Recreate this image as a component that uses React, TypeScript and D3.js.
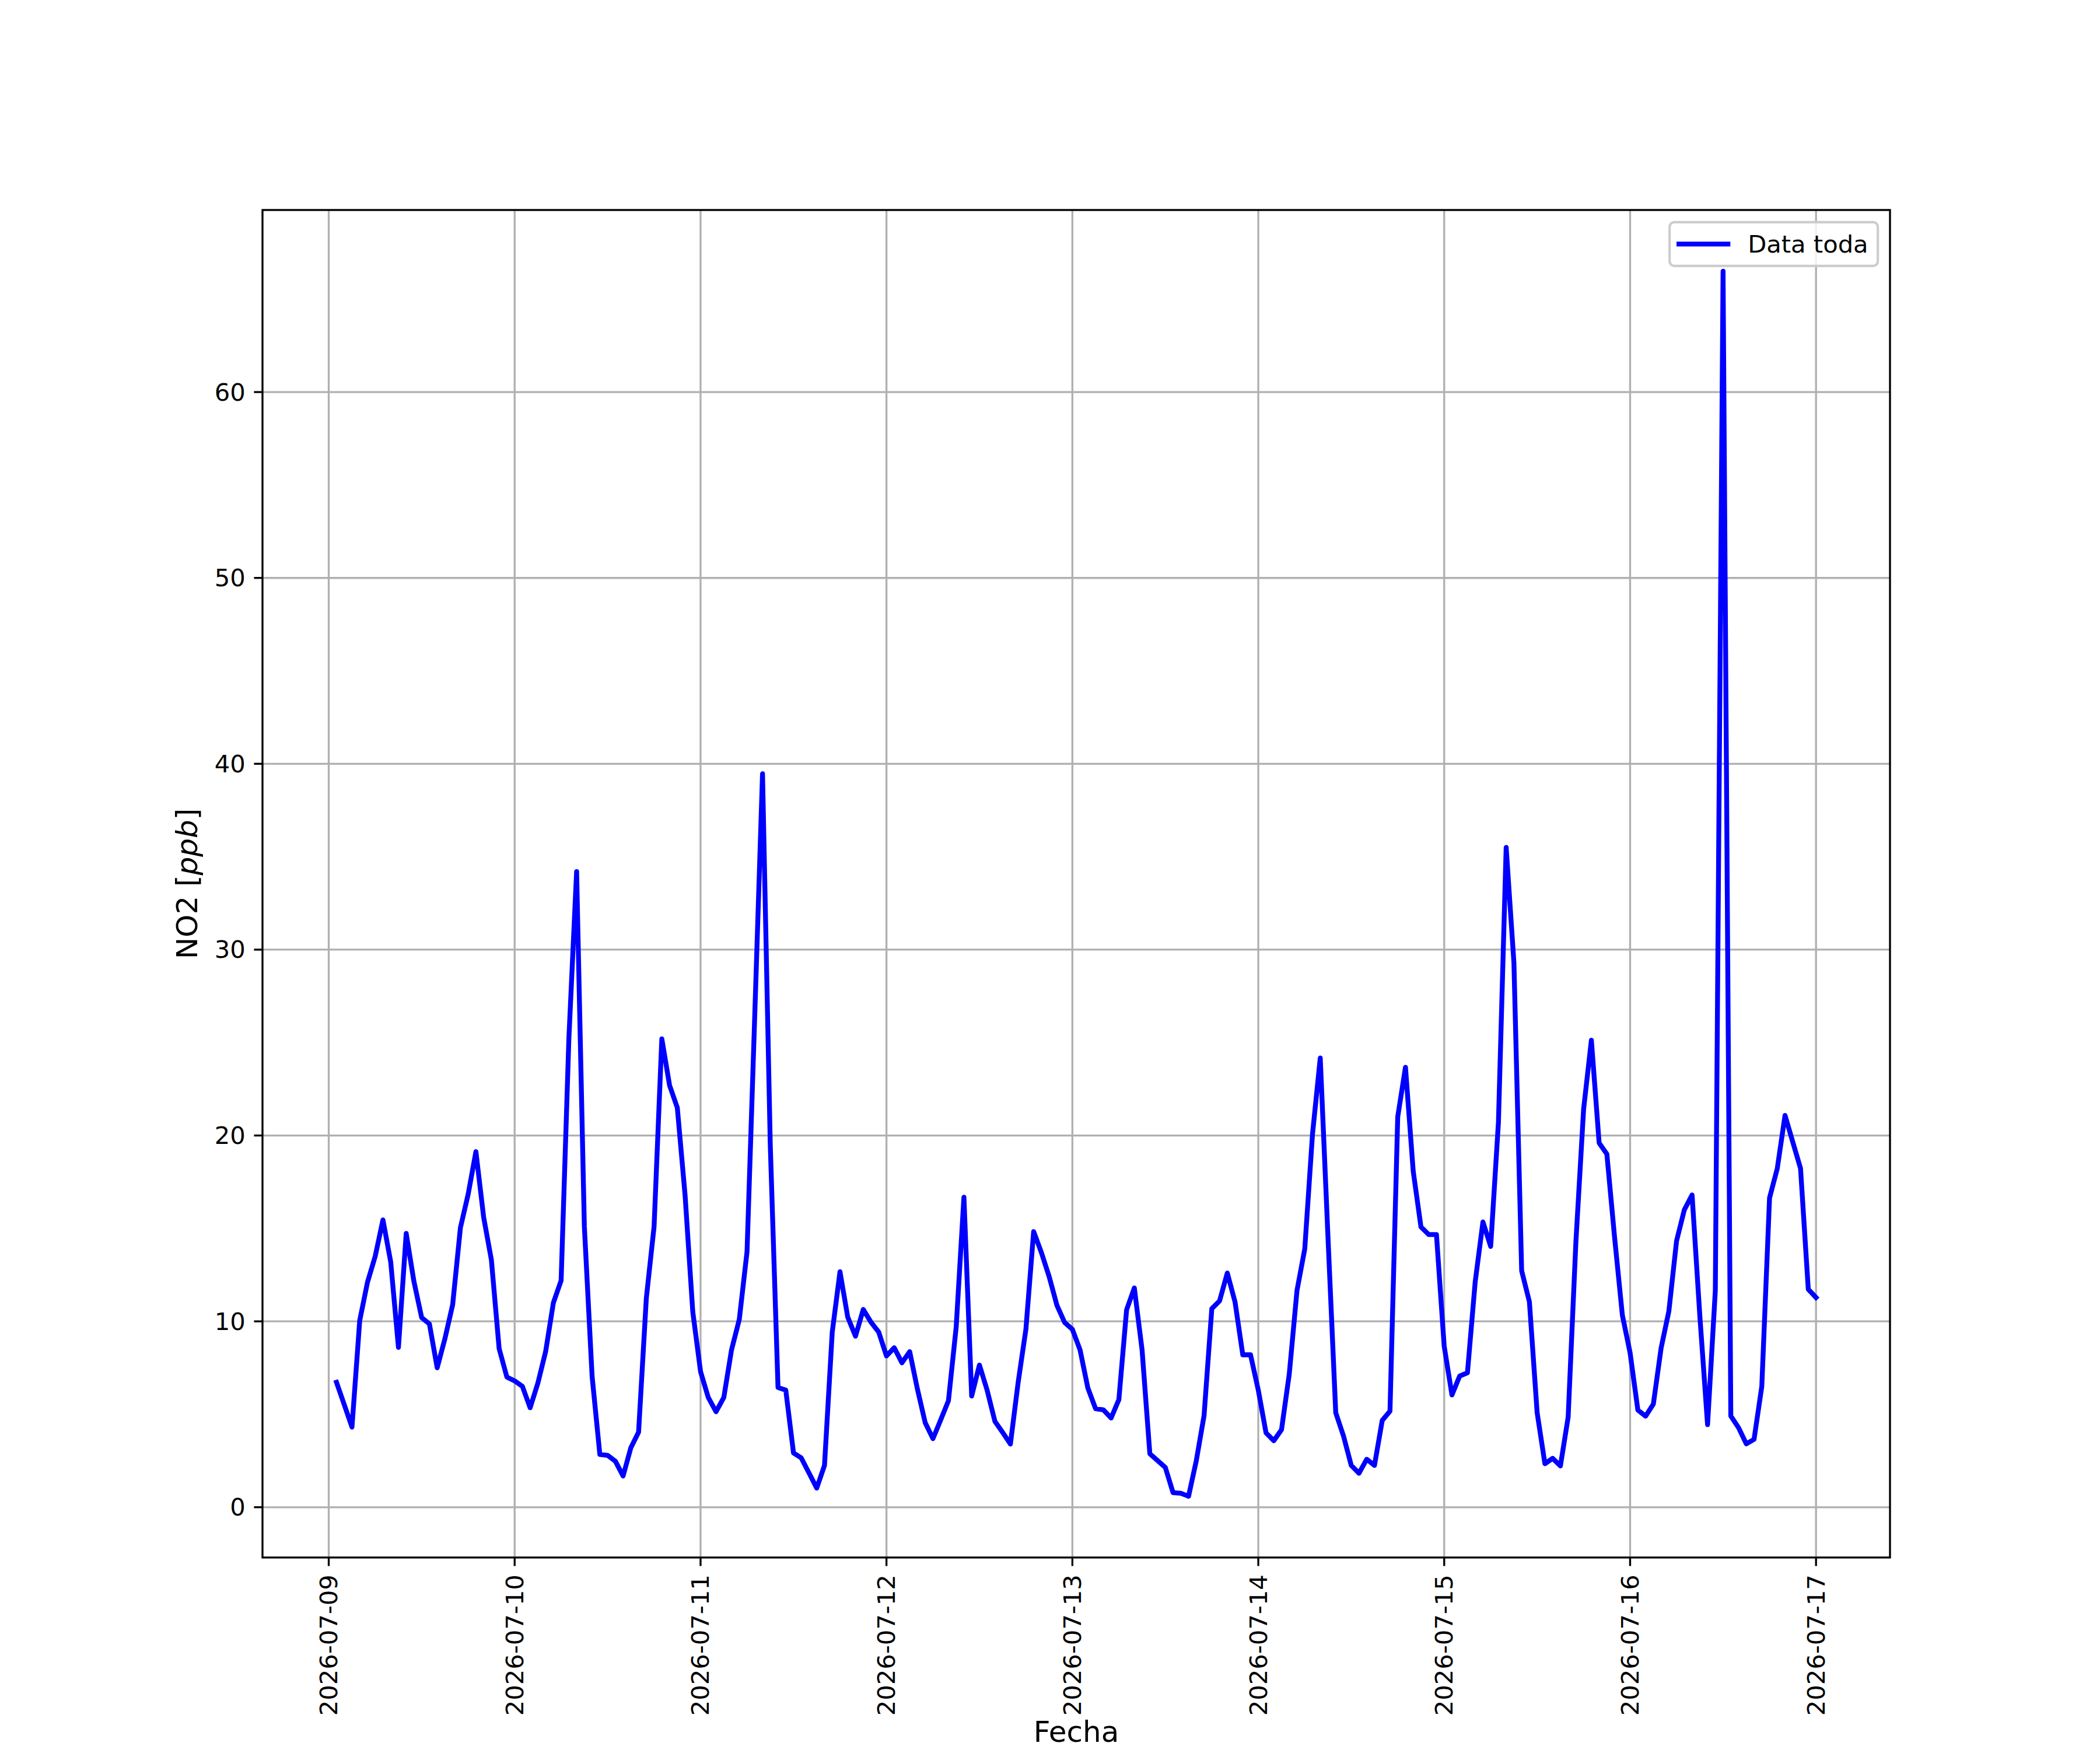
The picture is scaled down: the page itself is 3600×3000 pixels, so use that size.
import * as d3 from 'd3';

// hourly NO2 readings [ppb], one array per day (07-09 starts at 01:00)
const no2_0709 = [6.72, 5.52, 4.31, 10.04, 12.1, 13.5, 15.46, 13.2, 8.6, 14.73, 12.14, 10.2, 9.86, 7.5, 9.07, 10.9, 15.04, 16.84, 19.13, 15.6, 13.3, 8.53, 7.0];
const no2_0710 = [6.8, 6.5, 5.35, 6.68, 8.37, 11.0, 12.2, 25.2, 34.2, 15.1, 7.04, 2.84, 2.79, 2.48, 1.68, 3.2, 4.04, 11.25, 15.1, 25.2, 22.7, 21.5, 16.8, 10.5];
const no2_0711 = [7.3, 5.9, 5.14, 5.9, 8.47, 10.1, 13.75, 26.5, 39.46, 19.5, 6.44, 6.3, 2.92, 2.65, 1.84, 1.03, 2.25, 9.42, 12.67, 10.23, 9.2, 10.64, 9.96, 9.42];
const no2_0712 = [8.14, 8.58, 7.77, 8.37, 6.35, 4.55, 3.69, 4.7, 5.73, 9.69, 16.68, 5.98, 7.65, 6.29, 4.62, 4.02, 3.4, 6.72, 9.57, 14.83, 13.7, 12.41, 10.87, 9.94];
const no2_0713 = [9.57, 8.45, 6.41, 5.3, 5.24, 4.8, 5.79, 10.62, 11.8, 8.45, 2.88, 2.51, 2.14, 0.78, 0.75, 0.59, 2.51, 4.93, 10.68, 11.1, 12.6, 11.04, 8.2, 8.2];
const no2_0714 = [6.3, 4.0, 3.58, 4.17, 7.17, 11.67, 13.9, 20.08, 24.17, 14.5, 5.08, 3.83, 2.25, 1.83, 2.58, 2.25, 4.67, 5.17, 21.0, 23.67, 18.08, 15.08, 14.67, 14.67];
const no2_0715 = [8.66, 6.04, 7.06, 7.23, 12.12, 15.35, 14.03, 20.7, 35.5, 29.3, 12.72, 11.05, 5.08, 2.34, 2.63, 2.22, 4.84, 14.27, 21.43, 25.13, 19.6, 19.0, 14.5, 10.33];
const no2_0716 = [8.3, 5.23, 4.9, 5.55, 8.56, 10.54, 14.34, 16.0, 16.8, 10.3, 4.44, 11.65, 66.5, 4.91, 4.28, 3.41, 3.65, 6.5, 16.64, 18.23, 21.08, 19.65, 18.23, 11.73];
const no2_0717 = [11.28];

const startTime = '2026-07-09T01:00:00Z';
const yTicks = [0, 10, 20, 30, 40, 50, 60];
const legendLabel = 'Data toda';

const values = [
  ...no2_0709, ...no2_0710, ...no2_0711, ...no2_0712,
  ...no2_0713, ...no2_0714, ...no2_0715, ...no2_0716, ...no2_0717,
];
const t0 = new Date(startTime).getTime();
const data = values.map((v, i) => ({ date: new Date(t0 + i * 3600 * 1000), value: v }));

const W = 3600;
const H = 3000;
const left = 450;
const right = 3240;
const top = 360;
const bottom = 2670;
const pt = 300 / 72;

export default function App() {
  const [dMin, dMax] = d3.extent(data, (d) => d.date) as [Date, Date];
  const span = dMax.getTime() - dMin.getTime();
  const x = d3
    .scaleUtc()
    .domain([new Date(dMin.getTime() - 0.05 * span), new Date(dMax.getTime() + 0.05 * span)])
    .range([left, right]);

  const [vMin, vMax] = d3.extent(data, (d) => d.value) as [number, number];
  const r = vMax - vMin;
  const y = d3
    .scaleLinear()
    .domain([vMin - 0.05 * r, vMax + 0.05 * r])
    .range([bottom, top]);

  const xTicks = d3.utcDay.range(d3.utcDay.ceil(x.domain()[0]), x.domain()[1]);
  const fmt = d3.utcFormat('%Y-%m-%d');

  const line = d3
    .line<{ date: Date; value: number }>()
    .x((d) => x(d.date))
    .y((d) => y(d.value));

  const tickLen = 3.5 * pt;
  const tickFont = 10 * pt;
  const labelFont = 12 * pt;
  const grid = '#b0b0b0';

  // legend geometry (upper right)
  const legRight = right - 0.5 * tickFont;
  const legTop = top + 0.5 * tickFont;
  const legW = 357;
  const legH = 75;
  const legLeft = legRight - legW;
  const legMidY = legTop + legH / 2;

  return (
    <svg
      width={W}
      height={H}
      style={{ position: 'absolute', left: 0, top: 0, background: '#fff' }}
      fontFamily="'DejaVu Sans', sans-serif"
    >
      <rect x={0} y={0} width={W} height={H} fill="#fff" />

      {/* grid */}
      {xTicks.map((t) => (
        <line key={'gx' + t.getTime()} x1={x(t)} x2={x(t)} y1={top} y2={bottom} stroke={grid} strokeWidth={0.8 * pt} />
      ))}
      {yTicks.map((v) => (
        <line key={'gy' + v} x1={left} x2={right} y1={y(v)} y2={y(v)} stroke={grid} strokeWidth={0.8 * pt} />
      ))}

      {/* series */}
      <path
        d={line(data) ?? ''}
        fill="none"
        stroke="#0000ff"
        strokeWidth={2 * pt}
        strokeLinejoin="round"
        strokeLinecap="square"
      />

      {/* frame */}
      <rect x={left} y={top} width={right - left} height={bottom - top} fill="none" stroke="#000" strokeWidth={0.8 * pt} />

      {/* x ticks */}
      {xTicks.map((t) => (
        <g key={'tx' + t.getTime()}>
          <line x1={x(t)} x2={x(t)} y1={bottom} y2={bottom + tickLen} stroke="#000" strokeWidth={0.8 * pt} />
          <text
            transform={`translate(${x(t)},${bottom + 2 * tickLen}) rotate(-90)`}
            textAnchor="end"
            dominantBaseline="central"
            fontSize={tickFont}
            fill="#000"
          >
            {fmt(t)}
          </text>
        </g>
      ))}

      {/* y ticks */}
      {yTicks.map((v) => (
        <g key={'ty' + v}>
          <line x1={left - tickLen} x2={left} y1={y(v)} y2={y(v)} stroke="#000" strokeWidth={0.8 * pt} />
          <text x={left - 2 * tickLen} y={y(v)} textAnchor="end" dominantBaseline="central" fontSize={tickFont} fill="#000">
            {v}
          </text>
        </g>
      ))}

      {/* axis labels */}
      <text x={(left + right) / 2} y={2986} textAnchor="middle" fontSize={labelFont} fill="#000">
        Fecha
      </text>
      <text transform={`translate(338,${(top + bottom) / 2}) rotate(-90)`} textAnchor="middle" fontSize={labelFont} fill="#000">
        NO2 [<tspan fontStyle="italic">ppb</tspan>]
      </text>

      {/* legend */}
      <rect
        x={legLeft}
        y={legTop}
        width={legW}
        height={legH}
        rx={8}
        fill="#fff"
        fillOpacity={0.8}
        stroke="#cccccc"
        strokeWidth={pt}
      />
      <line x1={legLeft + 16} x2={legLeft + 100} y1={legMidY} y2={legMidY} stroke="#0000ff" strokeWidth={2 * pt} strokeLinecap="square" />
      <text x={legLeft + 134} y={legMidY + 15} fontSize={tickFont} fill="#000">
        {legendLabel}
      </text>
    </svg>
  );
}
